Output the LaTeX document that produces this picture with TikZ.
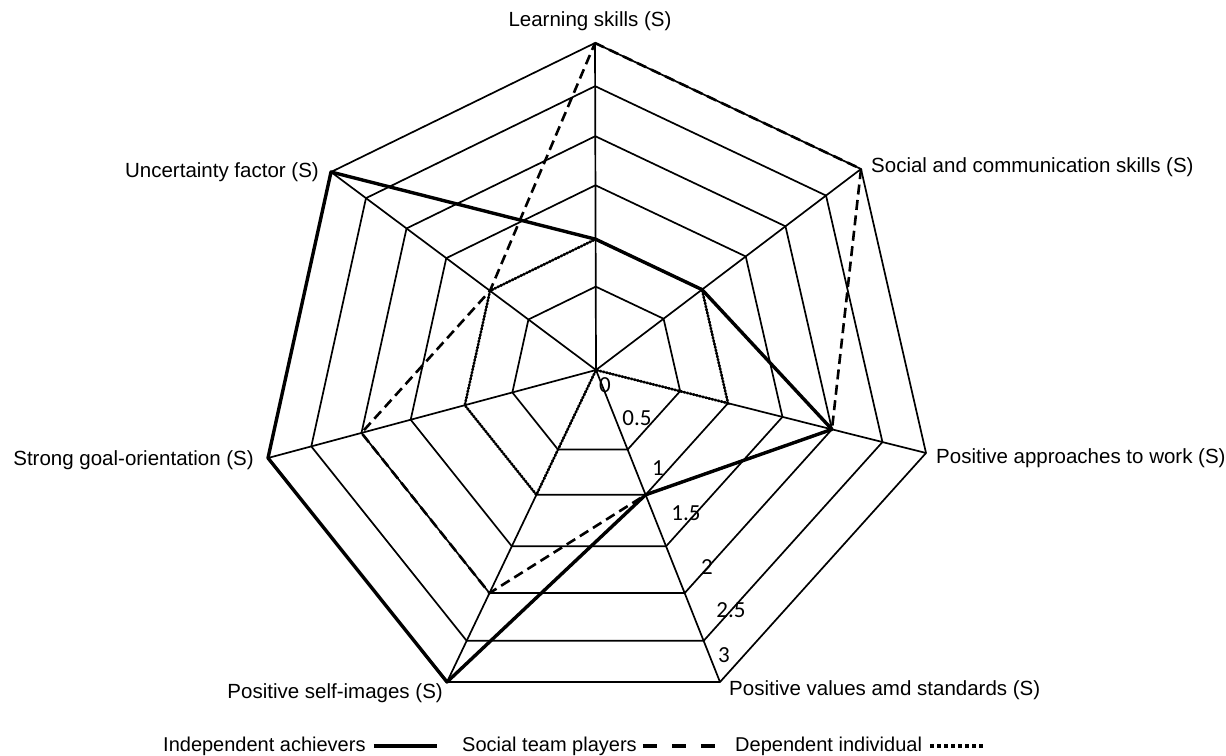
\documentclass[tikz,border=0pt]{standalone}
\usepackage{fontspec}
\setmainfont{Liberation Sans}
\newfontfamily\tickfont{Carlito}
\usepackage{tikz}
\usetikzlibrary{calc, positioning}

\begin{document}
\begin{tikzpicture}[
  x=1pt, y=-1pt,
  grid/.style={draw=black, line width=1.7pt, line join=miter},
  indep/.style={line width=3.4pt, line join=round},
  social/.style={line width=2.6pt, dash pattern=on 10pt off 5.5pt},
  depend/.style={line width=2.6pt, dash pattern=on 1.6pt off 1.6pt},
  axislabel/.style={font=\fontsize{20.5}{24}\selectfont, inner sep=0pt},
  ticklabel/.style={font=\tickfont\fontsize{23}{26}\selectfont, inner sep=0pt},
  legend/.style={font=\fontsize{20}{24}\selectfont, inner sep=0pt, anchor=west}
]
  \useasboundingbox (0,0) rectangle (1226,755);

  % Centre and outer corners of the web
  \coordinate (c)  at (596,370);
  \coordinate (v1) at (595,43);
  \coordinate (v2) at (861,169);
  \coordinate (v3) at (926,453);
  \coordinate (v4) at (720,682);
  \coordinate (v5) at (447,682);
  \coordinate (v6) at (268,458);
  \coordinate (v7) at (331,172);

  % Ring points: r0 = centre, r6 = value 3
  \foreach \i in {1,...,7} \coordinate (r0-\i) at (c);
  \foreach \f [count=\k] in {0.255,0.40,0.565,0.715,0.868,1}
    \foreach \i in {1,...,7}
      \coordinate (r\k-\i) at ($(c)!\f!(v\i)$);

  % Web
  \foreach \k in {1,...,6}
    \draw[grid] (r\k-1) -- (r\k-2) -- (r\k-3) -- (r\k-4) -- (r\k-5) -- (r\k-6) -- (r\k-7) -- cycle;
  \foreach \i in {1,...,7}
    \draw[grid] (c) -- (v\i);

  % Scale
  \foreach \t/\px/\py in {0/605/385, 0.5/637/418, 1/658/468, 1.5/686/513, 2/707/567, 2.5/731/610, 3/724/655}
    \node[ticklabel] at (\px,\py) (tick\px) {\t};

  % Axis names
  \node[axislabel]              at (590,21)  (learn)  {Learning skills (S)};
  \node[axislabel, anchor=west] at (871,167) (comm)   {Social and communication skills (S)};
  \node[axislabel, anchor=west] at (936,458) (work)   {Positive approaches to work (S)};
  \node[axislabel, anchor=west] at (729,690) (values) {Positive values amd standards (S)};
  \node[axislabel, anchor=east] at (443,693) (self)   {Positive self-images (S)};
  \node[axislabel, anchor=east] at (254,460) (goal)   {Strong goal-orientation (S)};
  \node[axislabel, anchor=east] at (319,172) (uncert) {Uncertainty factor (S)};

  % Profiles
  \draw[depend] (r2-1) -- (r2-2) -- (r2-3) -- (r0-4) -- (r2-5) -- (r2-6) -- (r2-7) -- cycle;
  \draw[social] (r6-1) -- (r6-2) -- (r4-3) -- (r2-4) -- (r4-5) -- (r4-6) -- (r2-7) -- cycle;
  \draw[indep]  (r2-1) -- (r2-2) -- (r4-3) -- (r2-4) -- (r6-5) -- (r6-6) -- (r6-7) -- cycle;

  % Legend
  \node[legend] at (163,746) (lgIndep)  {Independent achievers};
  \node[legend] at (462,746) (lgSocial) {Social team players};
  \node[legend] at (735,746) (lgDep)    {Dependent individual};
  \draw[line width=4pt] ([xshift=8pt]lgIndep.east) -- ++(63,0);
  \draw[line width=4pt, dash pattern=on 14pt off 15pt] ([xshift=6pt]lgSocial.east) -- ++(72,0);
  \draw[line width=4pt, dash pattern=on 4pt off 3pt] ([xshift=8pt]lgDep.east) -- ++(53,0);
\end{tikzpicture}
\end{document}
